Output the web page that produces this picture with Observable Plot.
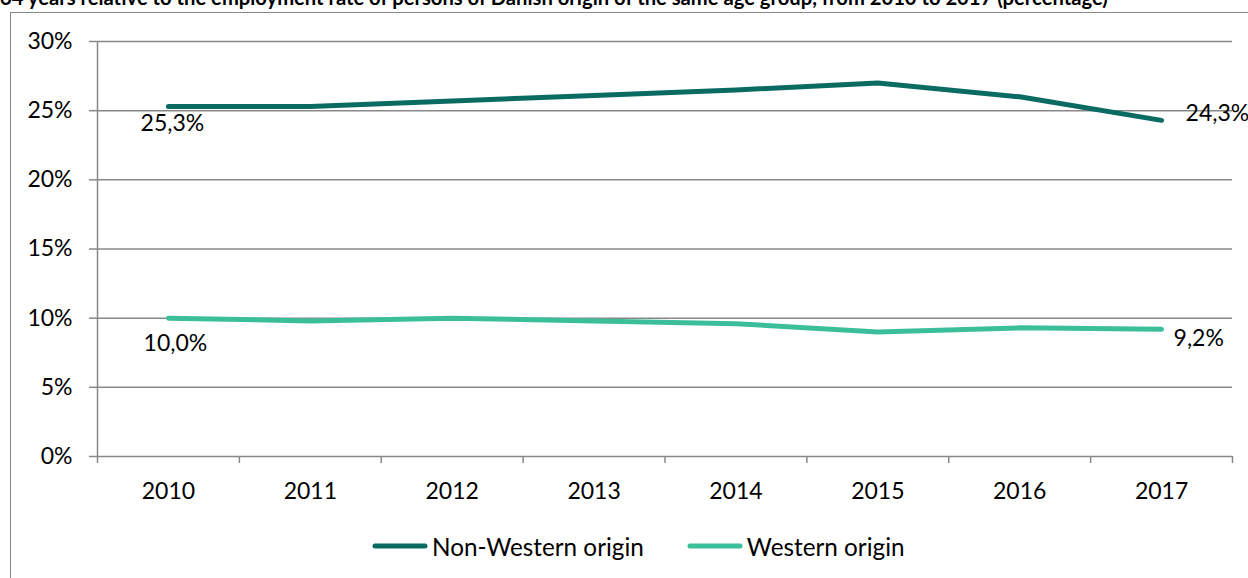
<!DOCTYPE html>
<html>
<head>
<meta charset="utf-8">
<script src="https://cdn.jsdelivr.net/npm/d3@7"></script>
<script src="https://cdn.jsdelivr.net/npm/@observablehq/plot@0.6"></script>
<style>
  html, body { margin: 0; padding: 0; background: #fff; }
  body { width: 1248px; height: 578px; overflow: hidden; position: relative; font-family: Lato, "Open Sans", sans-serif; }
  #title { position: absolute; left: 0; top: -13px; font-weight: 700; font-size: 20.2px; line-height: 20px; white-space: nowrap; color: #000; }
  #frame { position: absolute; left: 10px; top: 12px; width: 1400px; height: 800px; border-top: 1.5px solid #888; border-left: 1.5px solid #888; box-sizing: border-box; pointer-events: none; }
  #chart { position: absolute; left: 0; top: 0; }
  #legend { position: absolute; left: 372px; top: 531px; height: 30px; display: flex; align-items: center; font-size: 24.3px; color: #000; }
  .item { display: flex; align-items: center; }
  .item + .item { margin-left: 43px; }
  .item svg { margin-right: 4px; }
</style>
</head>
<body>
<div id="title">64 years relative to the employment rate of persons of Danish origin of the same age group, from 2010 to 2017 (percentage)</div>
<div id="frame"></div>
<div id="chart"></div>
<div id="legend"></div>
<script>
const years = [2010, 2011, 2012, 2013, 2014, 2015, 2016, 2017];
const nonWestern = [25.3, 25.3, 25.7, 26.1, 26.5, 27.0, 26.0, 24.3];
const western = [10.0, 9.8, 10.0, 9.8, 9.6, 9.0, 9.3, 9.2];
const yTicks = [0, 5, 10, 15, 20, 25, 30];
const seriesNames = ["Non-Western origin", "Western origin"];
const seriesColors = ["#0a6b63", "#3bbf9b"];

const data = years.flatMap((yr, i) => [
  {year: yr, value: nonWestern[i], series: seriesNames[0]},
  {year: yr, value: western[i], series: seriesNames[1]}
]);
const boundaries = years.map(y => y - 0.5).concat([years[years.length - 1] + 0.5]);
const fmt = v => v.toFixed(1).replace(".", ",") + "%";
const first = i => ({year: years[0], value: i === 0 ? nonWestern[0] : western[0]});
const last = i => ({year: years[years.length - 1], value: i === 0 ? nonWestern[years.length - 1] : western[years.length - 1]});

const gray = "#888";
const chart = Plot.plot({
  width: 1248,
  height: 506,
  marginLeft: 97,
  marginRight: 16,
  marginTop: 41,
  marginBottom: 50,
  style: {fontFamily: "Lato, 'Open Sans', sans-serif", fontSize: "23px", background: "transparent", color: "#000", overflow: "visible"},
  x: {domain: [boundaries[0], boundaries[boundaries.length - 1]]},
  y: {domain: [0, 30]},
  color: {domain: seriesNames, range: seriesColors},
  marks: [
    Plot.ruleY(yTicks.filter(t => t > 0), {stroke: gray, strokeWidth: 1.5}),
    Plot.ruleY([0], {stroke: gray, strokeWidth: 1.5}),
    Plot.ruleX([boundaries[0]], {stroke: gray, strokeWidth: 1.5}),
    Plot.axisY({ticks: yTicks, tickFormat: d => d + "%", tickSize: 8, tickPadding: 17, stroke: gray, strokeWidth: 1.5, fill: "#000", fontSize: 23, label: null}),
    Plot.axisX({ticks: boundaries, tickFormat: () => "", tickSize: 7, stroke: gray, strokeWidth: 1.5, label: null}),
    Plot.axisX({ticks: years, tickFormat: d => String(d), tickSize: 0, tickPadding: 26, fill: "#000", fontSize: 23, label: null}),
    Plot.line(data, {x: "year", y: "value", z: "series", stroke: "series", strokeWidth: 5, strokeLinecap: "round", strokeLinejoin: "round"}),
    Plot.text([first(0)], {x: "year", y: "value", text: d => fmt(d.value), dx: 4, dy: 17, fontSize: 23, fill: "#000"}),
    Plot.text([first(1)], {x: "year", y: "value", text: d => fmt(d.value), dx: 7, dy: 25, fontSize: 23, fill: "#000"}),
    Plot.text([last(0)], {x: "year", y: "value", text: d => fmt(d.value), dx: 24, dy: -7, textAnchor: "start", fontSize: 23, fill: "#000"}),
    Plot.text([last(1)], {x: "year", y: "value", text: d => fmt(d.value), dx: 12, dy: 9.5, textAnchor: "start", fontSize: 23, fill: "#000"})
  ]
});
document.getElementById("chart").appendChild(chart);

const legend = document.getElementById("legend");
seriesNames.forEach((name, i) => {
  const item = document.createElement("div");
  item.className = "item";
  item.innerHTML = `<svg width="56" height="10"><line x1="3" y1="5" x2="53" y2="5" stroke="${seriesColors[i]}" stroke-width="5" stroke-linecap="round"/></svg><span>${name}</span>`;
  legend.appendChild(item);
});
</script>
</body>
</html>
